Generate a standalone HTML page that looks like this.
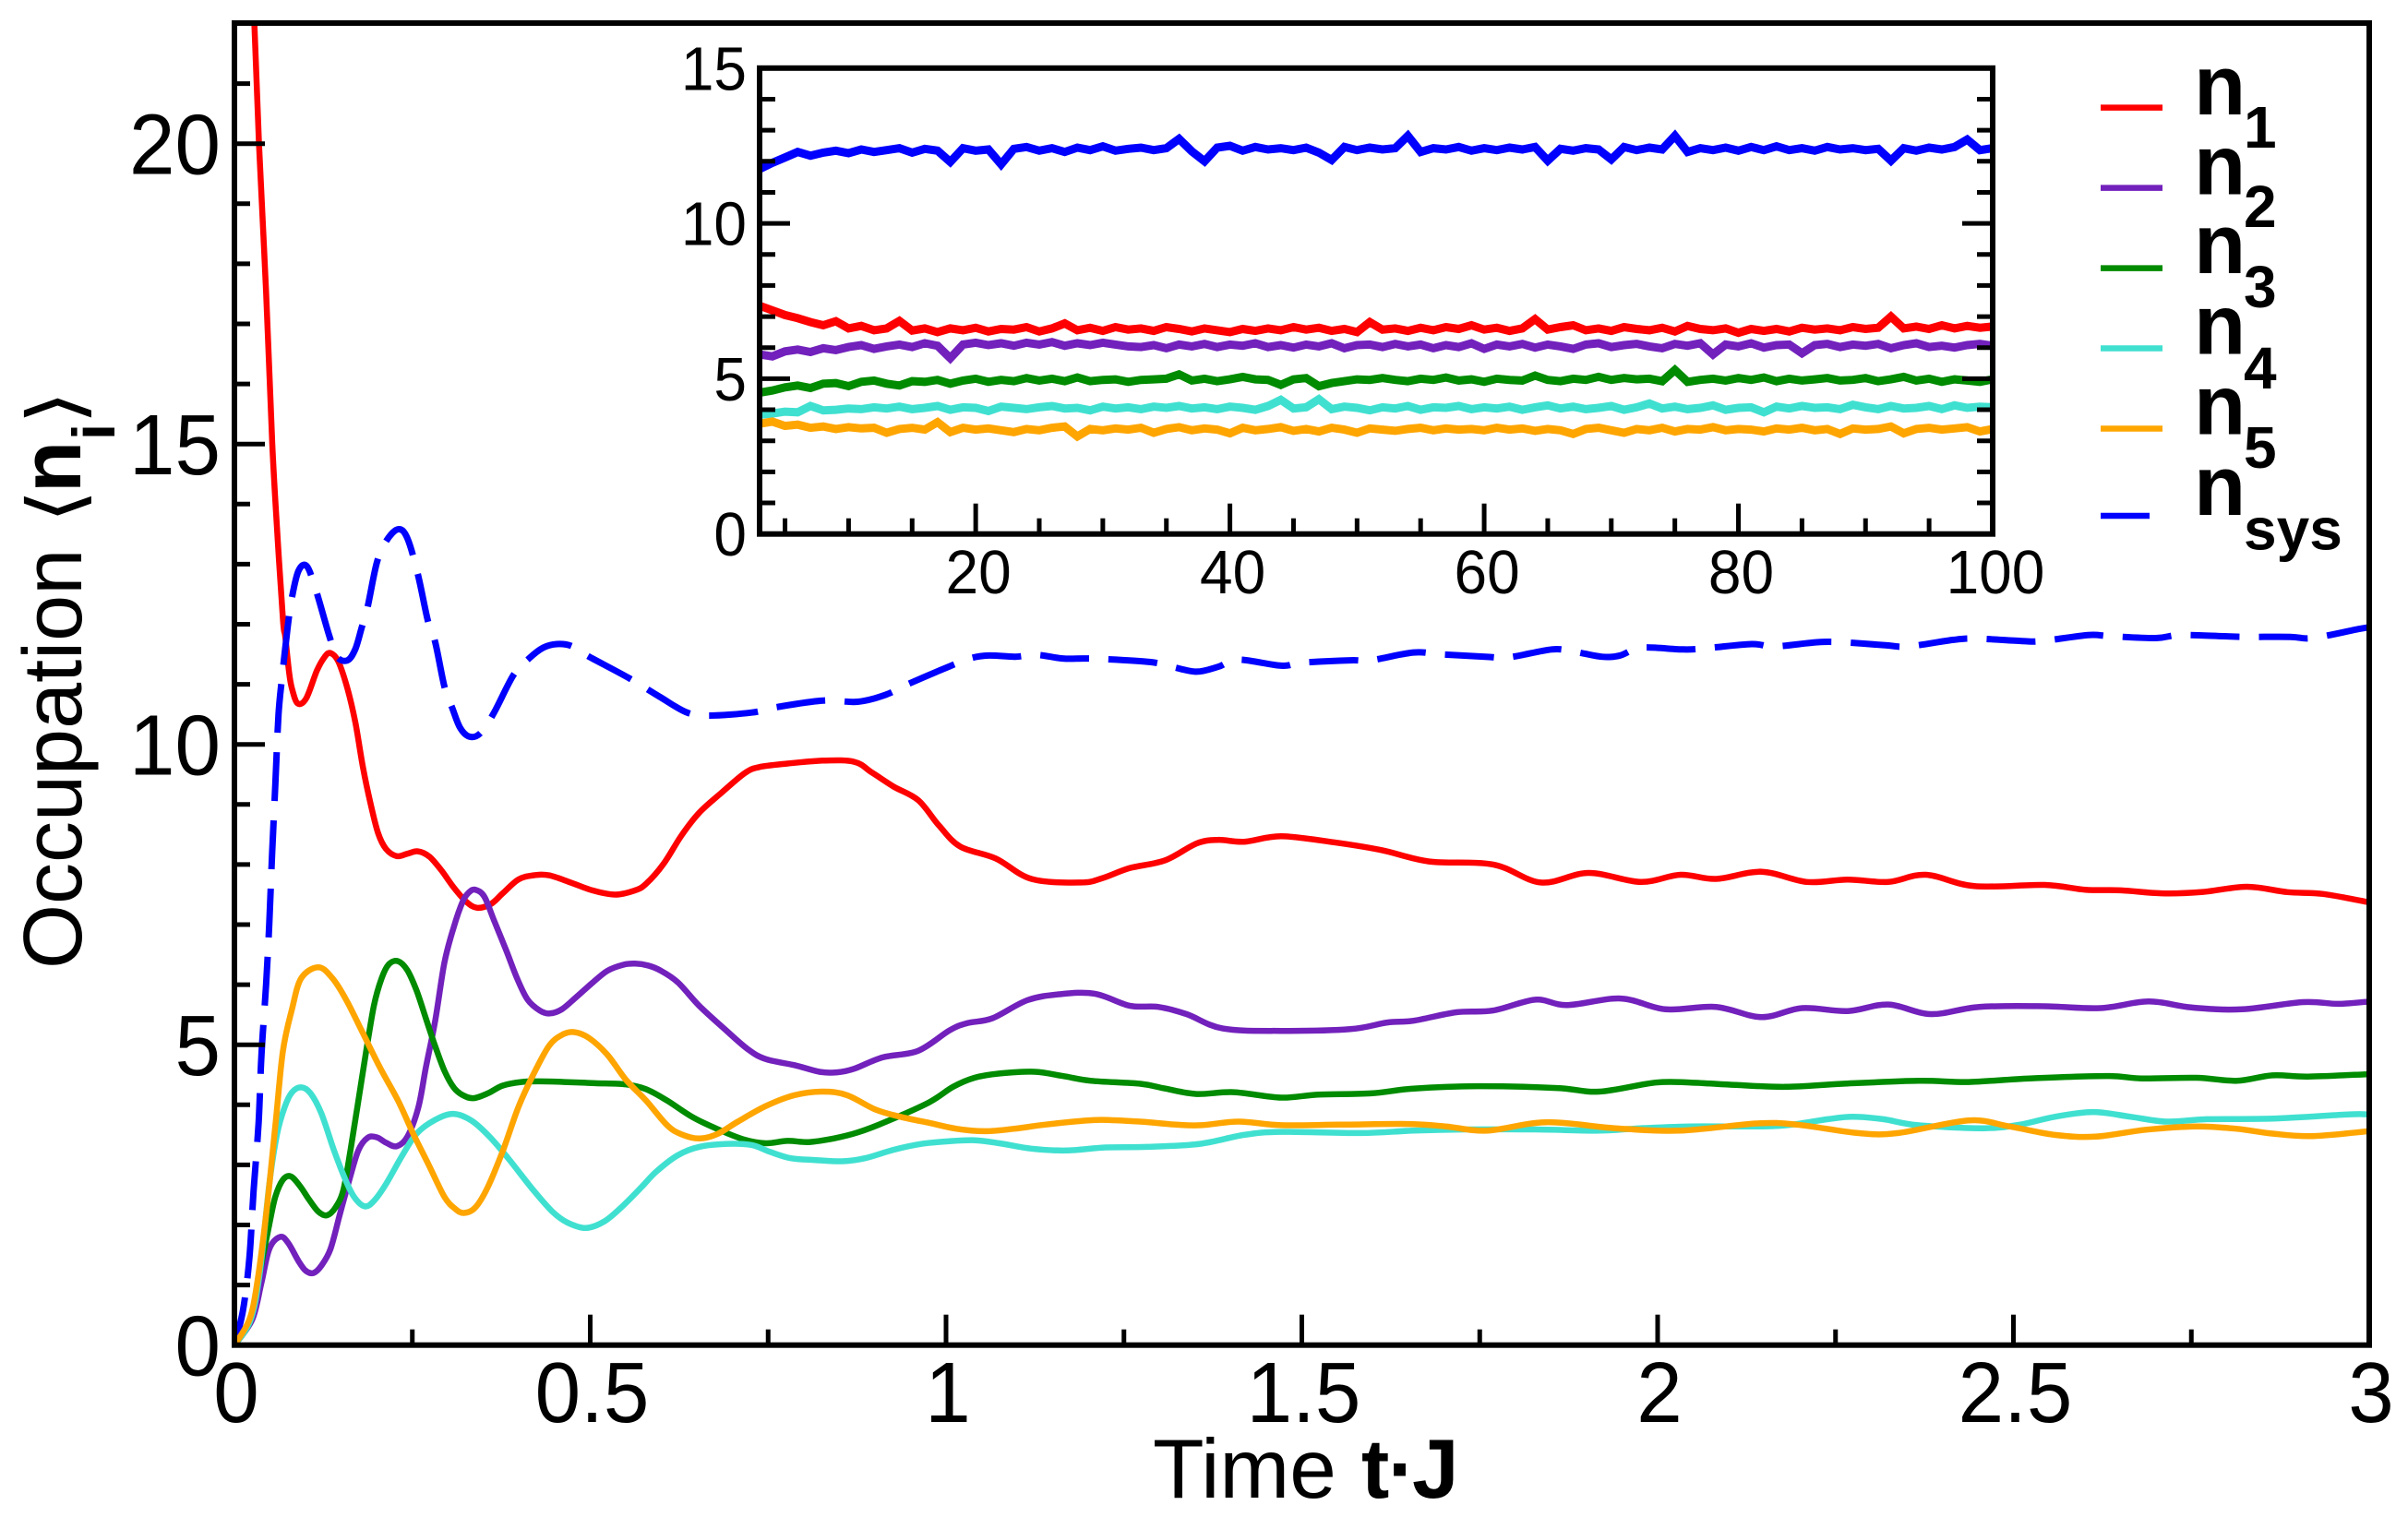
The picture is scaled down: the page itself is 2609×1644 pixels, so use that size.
<!DOCTYPE html>
<html lang="en">
<head>
<meta charset="utf-8">
<title>Occupation vs time</title>
<style>
html,body{margin:0;padding:0;background:#fff}
svg{display:block;font-family:"Liberation Sans",sans-serif}
</style>
</head>
<body>
<svg id="chart" xmlns="http://www.w3.org/2000/svg" width="2609" height="1644" viewBox="0 0 2609 1644">
  <rect x="0" y="0" width="2609" height="1644" fill="#fff"/>
  <defs><clipPath id="main-clip"><rect x="254" y="25" width="2313" height="1433"/></clipPath></defs>
  <g id="main-series" clip-path="url(#main-clip)"></g>
  <g id="main-axes"></g>
  <g id="inset-series"></g>
  <g id="inset-axes"></g>

  <text y="1623" font-size="91" fill="#000"><tspan x="1249">Time</tspan><tspan x="1475" font-weight="700">t</tspan><tspan x="1519" text-anchor="middle" font-weight="700">·</tspan><tspan x="1530" font-weight="700">J</tspan></text>

  <g fill="#000">
    <text transform="translate(88,1050) rotate(-90)" font-size="90">Occupation</text>
    <text transform="translate(88,567) rotate(-90) scale(1.15,1)" font-size="82" style='font-family:"DejaVu Sans",sans-serif'>⟨</text>
    <text transform="translate(87,534) rotate(-90)" font-size="92" font-weight="700">n</text>
    <text transform="translate(124,477) rotate(-90)" font-size="65" font-weight="700">i</text>
    <text transform="translate(88,460) rotate(-90) scale(1.15,1)" font-size="82" style='font-family:"DejaVu Sans",sans-serif'>⟩</text>
  </g>

  <g fill="#000" font-weight="700">
    <g>
      <line x1="2276" x2="2343" y1="116.6" y2="116.6" stroke="#ff0000" stroke-width="6.5"/>
      <text x="2377" y="124" font-size="92">n</text>
      <text x="2431" y="160" font-size="64">1</text>
    </g>
    <g>
      <line x1="2276" x2="2343" y1="203.6" y2="203.6" stroke="#7221bc" stroke-width="6.5"/>
      <text x="2377" y="210.5" font-size="92">n</text>
      <text x="2431" y="246" font-size="64">2</text>
    </g>
    <g>
      <line x1="2276" x2="2343" y1="290.6" y2="290.6" stroke="#008b00" stroke-width="6.5"/>
      <text x="2377" y="296" font-size="92">n</text>
      <text x="2431" y="333" font-size="64">3</text>
    </g>
    <g>
      <line x1="2276" x2="2343" y1="377.5" y2="377.5" stroke="#40e0d0" stroke-width="6.5"/>
      <text x="2377" y="383.7" font-size="92">n</text>
      <text x="2431" y="421" font-size="64">4</text>
    </g>
    <g>
      <line x1="2276" x2="2343" y1="464.5" y2="464.5" stroke="#ffa500" stroke-width="6.5"/>
      <text x="2377" y="470.6" font-size="92">n</text>
      <text x="2431" y="507" font-size="64">5</text>
    </g>
    <g>
      <line x1="2276" x2="2329" y1="559" y2="559" stroke="#0000ff" stroke-width="6.5"/>
      <text x="2377" y="558" font-size="92">n</text>
      <text x="2431" y="595.6" font-size="64">sys</text>
    </g>
  </g>
</svg>
<script>
// ---------- main plot data (time, occupation) ----------
const n1Times=[.024,.028,.0345,.0445,.0532,.061,.0683,.0715,.077,.081,.089,.101,.116,.127,.135,.146,.159,.17,.181,.192,.202,.213,.228,.243,.258,.274,.291,.308,.326,.341,.36,.377,.399,.42,.442,.4725,.503,.535,.563,.5785,.603,.628,.653,.683,.717,.737,.777,.827,.871,.896,.926,.961,.99,1.02,1.07,1.12,1.189,1.219,1.258,1.308,1.352,1.382,1.419,1.471,1.545,1.612,1.679,1.769,1.836,1.903,1.976,2.032,2.082,2.146,2.21,2.267,2.324,2.377,2.445,2.544,2.601,2.651,2.708,2.764,2.828,2.885,2.935,3];
const n1Values=[23.2,22,20,17.53,15,13.38,12.05,11.79,11.18,10.92,10.68,10.77,11.23,11.46,11.52,11.38,10.92,10.36,9.59,8.98,8.52,8.26,8.14,8.18,8.22,8.13,7.9,7.62,7.38,7.28,7.34,7.52,7.75,7.82,7.82,7.7,7.57,7.5,7.57,7.68,8.01,8.48,8.86,9.18,9.52,9.62,9.68,9.73,9.71,9.53,9.3,9.07,8.65,8.3,8.1,7.76,7.7,7.77,7.94,8.07,8.35,8.41,8.38,8.47,8.37,8.24,8.05,8,7.7,7.86,7.71,7.83,7.76,7.88,7.71,7.75,7.71,7.83,7.64,7.66,7.58,7.57,7.52,7.54,7.63,7.54,7.51,7.37];

const n2Times=[0,.025,.038,.049,.064,.075,.09,.1,.111,.122,.135,.148,.161,.174,.187,.2,.213,.228,.243,.2585,.269,.282,.295,.308,.321,.33,.3385,.351,.3645,.382,.397,.412,.429,.443,.46,.481,.503,.524,.546,.563,.581,.598,.623,.653,.688,.722,.747,.787,.822,.847,.871,.911,.961,1.005,1.03,1.065,1.114,1.159,1.209,1.258,1.298,1.338,1.389,1.471,1.568,1.62,1.657,1.717,1.769,1.828,1.873,1.948,2.011,2.082,2.146,2.203,2.267,2.324,2.384,2.452,2.544,2.622,2.69,2.75,2.821,2.907,2.956,3];
const n2Values=[0,.425,1.04,1.6,1.8,1.71,1.4,1.24,1.2,1.32,1.6,2.17,2.73,3.24,3.45,3.46,3.37,3.31,3.47,3.96,4.62,5.39,6.36,6.95,7.39,7.54,7.58,7.47,7.08,6.57,6.11,5.75,5.57,5.52,5.59,5.8,6.03,6.23,6.33,6.35,6.32,6.24,6.04,5.65,5.27,4.92,4.76,4.66,4.55,4.54,4.6,4.79,4.9,5.24,5.36,5.44,5.74,5.84,5.85,5.65,5.63,5.51,5.27,5.23,5.26,5.37,5.4,5.54,5.57,5.75,5.66,5.77,5.59,5.63,5.46,5.61,5.56,5.67,5.51,5.63,5.64,5.61,5.72,5.62,5.59,5.71,5.68,5.72];

const n3Times=[0,.023,.036,.049,.0575,.068,.079,.092,.105,.118,.13,.142,.153,.163,.174,.185,.196,.207,.217,.23,.243,.256,.269,.282,.295,.308,.321,.336,.356,.377,.403,.429,.464,.507,.55,.5785,.608,.643,.678,.717,.747,.777,.807,.842,.876,.916,.976,1.01,1.04,1.075,1.124,1.164,1.204,1.273,1.308,1.352,1.404,1.471,1.523,1.597,1.657,1.746,1.858,1.918,1.997,2.047,2.11,2.18,2.26,2.366,2.437,2.523,2.63,2.68,2.757,2.814,2.864,2.914,3];
const n3Values=[0,.425,1.24,2.01,2.47,2.75,2.81,2.65,2.42,2.22,2.16,2.29,2.58,3.24,4.06,4.88,5.65,6.11,6.34,6.39,6.24,5.9,5.44,4.98,4.57,4.29,4.16,4.11,4.19,4.32,4.38,4.39,4.38,4.36,4.34,4.26,4.07,3.8,3.6,3.42,3.36,3.4,3.38,3.44,3.54,3.72,4.04,4.3,4.45,4.52,4.55,4.48,4.4,4.35,4.27,4.18,4.21,4.12,4.17,4.19,4.27,4.31,4.28,4.22,4.37,4.37,4.33,4.3,4.35,4.4,4.38,4.44,4.48,4.44,4.45,4.4,4.49,4.47,4.51];

const n4Times=[0,.023,.036,.049,.0597,.0705,.081,.094,.107,.122,.14,.155,.168,.183,.196,.213,.235,.256,.282,.308,.334,.36,.386,.42,.447,.468,.494,.52,.546,.572,.593,.623,.653,.693,.727,.752,.782,.817,.854,.886,.926,.966,1,1.04,1.075,1.12,1.169,1.224,1.283,1.357,1.419,1.471,1.583,1.657,1.731,1.828,1.918,1.976,2.047,2.146,2.189,2.239,2.274,2.317,2.366,2.459,2.509,2.558,2.612,2.665,2.715,2.772,2.864,2.97,3];
const n4Values=[0,.425,1.24,2.68,3.5,3.96,4.21,4.29,4.19,3.86,3.24,2.78,2.47,2.31,2.4,2.68,3.14,3.52,3.75,3.85,3.73,3.45,3.09,2.58,2.22,2.04,1.95,2.06,2.32,2.63,2.89,3.16,3.3,3.35,3.33,3.22,3.11,3.08,3.06,3.11,3.25,3.35,3.39,3.41,3.36,3.27,3.24,3.29,3.3,3.35,3.5,3.55,3.53,3.57,3.59,3.59,3.57,3.61,3.64,3.64,3.67,3.76,3.8,3.76,3.66,3.61,3.67,3.8,3.88,3.8,3.72,3.76,3.77,3.84,3.84];

const n5Times=[0,.021,.032,.0445,.0575,.068,.081,.094,.118,.1375,.157,.1786,.2045,.2304,.252,.2737,.295,.31,.3225,.3385,.356,.3774,.399,.4207,.442,.4596,.477,.4985,.5244,.55,.5785,.608,.628,.653,.678,.7075,.747,.787,.827,.861,.901,.936,.976,1.015,1.055,1.095,1.139,1.189,1.219,1.273,1.323,1.359,1.411,1.471,1.553,1.65,1.702,1.761,1.843,1.94,2.032,2.139,2.196,2.281,2.338,2.437,2.494,2.558,2.615,2.686,2.757,2.814,2.864,2.92,3];
const n5Values=[0,.425,1.04,2.17,3.65,4.88,5.6,6.11,6.29,6.11,5.75,5.24,4.62,4.06,3.5,2.985,2.47,2.27,2.2,2.29,2.63,3.24,3.96,4.52,4.98,5.16,5.21,5.11,4.83,4.42,4.07,3.66,3.51,3.44,3.51,3.72,3.98,4.16,4.22,4.16,3.92,3.8,3.7,3.6,3.56,3.6,3.67,3.73,3.75,3.72,3.67,3.66,3.72,3.66,3.67,3.68,3.64,3.57,3.71,3.61,3.57,3.69,3.67,3.53,3.53,3.74,3.64,3.5,3.47,3.585,3.64,3.6,3.52,3.48,3.56];

const nsysTimes=[0,.012,.021,.027,.034,.038,.0445,.049,.053,.0575,.062,.068,.075,.081,.09,.1015,.114,.133,.144,.159,.17,.179,.187,.2,.213,.23,.243,.258,.272,.282,.295,.306,.317,.33,.345,.364,.392,.414,.434,.453,.473,.4985,.555,.598,.636,.668,.727,.762,.827,.876,.916,.946,1.005,1.033,1.06,1.097,1.127,1.164,1.194,1.224,1.288,1.318,1.352,1.382,1.411,1.471,1.5,1.568,1.597,1.657,1.694,1.758,1.791,1.851,1.88,1.921,1.947,1.977,2.036,2.068,2.132,2.164,2.224,2.26,2.32,2.352,2.416,2.448,2.512,2.54,2.605,2.637,2.7,2.733,2.796,2.825,2.889,2.92,2.985,3];
const nsysValues=[0,.58,1.45,2.58,3.7,4.83,6,7.03,8.21,9.33,10.51,11.23,11.97,12.46,12.89,12.97,12.59,11.82,11.46,11.4,11.59,11.95,12.28,13.02,13.38,13.58,13.43,12.82,12.05,11.71,10.97,10.61,10.28,10.13,10.18,10.51,11.15,11.43,11.61,11.67,11.64,11.46,11.1,10.79,10.53,10.48,10.53,10.62,10.73,10.71,10.83,11,11.3,11.43,11.48,11.46,11.49,11.43,11.43,11.42,11.37,11.29,11.21,11.29,11.41,11.31,11.36,11.4,11.4,11.53,11.5,11.46,11.45,11.58,11.55,11.46,11.48,11.61,11.58,11.6,11.67,11.63,11.7,11.7,11.65,11.63,11.74,11.76,11.72,11.72,11.82,11.8,11.77,11.82,11.8,11.79,11.79,11.77,11.92,11.95];

// ---------- inset data ----------
const insetTimes=[3,4,5,6,7,8,9,10,11,12,13,14,15,16,17,18,19,20,21,22,23,24,25,26,27,28,29,30,31,32,33,34,35,36,37,38,39,40,41,42,43,44,45,46,47,48,49,50,51,52,53,54,55,56,57,58,59,60,61,62,63,64,65,66,67,68,69,70,71,72,73,74,75,76,77,78,79,80,81,82,83,84,85,86,87,88,89,90,91,92,93,94,95,96,97,98,99,100];
const insetN1=[7.35,7.2,7.05,6.95,6.82,6.72,6.85,6.62,6.7,6.56,
6.62,6.86,6.55,6.62,6.5,6.62,6.56,6.64,6.52,6.6,
6.58,6.66,6.52,6.62,6.78,6.56,6.64,6.54,6.66,6.58,
6.62,6.54,6.66,6.6,6.52,6.62,6.56,6.5,6.6,6.54,
6.62,6.56,6.66,6.58,6.64,6.54,6.6,6.5,6.82,6.58,
6.62,6.54,6.64,6.56,6.66,6.6,6.72,6.58,6.64,6.54,
6.62,6.92,6.58,6.66,6.72,6.56,6.62,6.54,6.66,6.6,
6.56,6.64,6.52,6.7,6.6,6.56,6.62,6.48,6.6,6.54,
6.6,6.52,6.64,6.58,6.62,6.56,6.66,6.6,6.64,7,
6.62,6.68,6.6,6.72,6.62,6.7,6.64,6.68];
const insetN2=[5.78,5.72,5.88,5.94,5.86,5.98,5.92,6.02,6.08,5.96,
6.04,6.1,6.02,6.14,6.06,5.66,6.1,6.16,6.08,6.14,
6.06,6.16,6.1,6.18,6.06,6.14,6.08,6.16,6.1,6.04,
6.02,6.08,5.98,6.1,6.04,6.12,6.02,6.1,6.06,6.14,
6.02,6.08,6,6.1,6.04,6.14,5.98,6.08,6.1,6.02,
6.12,6.04,6.1,5.98,6.08,6.02,6.14,5.96,6.1,6.04,
6.12,6,6.1,6.04,5.96,6.1,6.14,6.02,6.08,6.12,
6.04,5.98,6.12,6.06,6.14,5.78,6.1,6.04,6.14,6,
6.08,6.1,5.82,6.08,6.12,6.02,6.1,6.06,6.12,5.98,
6.08,6.14,6.02,6.06,6,6.08,6.12,6.06];
const insetN3=[4.55,4.62,4.72,4.78,4.7,4.84,4.86,4.76,4.9,4.94,
4.84,4.78,4.92,4.9,4.96,4.84,4.94,5,4.9,4.96,
4.92,5.02,4.94,5,4.92,5.04,4.92,4.96,4.98,4.9,
4.96,4.98,5,5.14,4.94,5,4.92,4.98,5.06,4.98,
4.96,4.8,4.98,5.02,4.76,4.86,4.92,4.98,4.96,5.02,
4.96,4.92,5,4.96,5.04,4.94,4.98,4.9,5,4.96,
4.94,5.1,4.96,4.92,5,4.96,5.06,4.96,5.02,4.98,
5,4.92,5.28,4.9,4.96,5,4.94,5.02,4.96,5.04,
4.92,5,4.94,4.98,5.02,4.94,4.96,5.02,4.92,4.98,
5.06,4.94,5,4.9,4.98,4.94,4.9,4.98];
const insetN4=[3.84,3.88,3.94,3.92,4.12,3.98,4,4.04,4.02,4.08,
4.04,4.1,4.02,4.06,4.12,4,4.08,4.06,3.96,4.1,
4.06,4.02,4.08,4.12,4.04,4.06,3.98,4.1,4.04,4.08,
4.02,4.1,4.06,4.12,4.04,4.08,4.02,4.1,4.06,4,
4.12,4.32,4.04,4.08,4.34,4.02,4.1,4.06,3.98,4.08,
4.04,4.12,4,4.08,4.06,4.12,4.02,4.08,4.04,4.1,
4,4.08,4.14,4.04,4.1,4.02,4.06,4.12,4,4.08,
4.2,4.04,4.1,4.02,4.06,4.14,4,4.06,4.08,3.92,
4.1,4.04,4.12,4.06,4.08,4.02,4.16,4.08,4.02,4.12,
4.04,4.06,4.12,4.02,4.14,4.06,4.1,4.08];
const insetN5=[3.55,3.62,3.48,3.52,3.42,3.46,3.38,3.44,3.4,3.42,
3.26,3.38,3.42,3.36,3.6,3.28,3.42,3.36,3.4,3.34,
3.28,3.38,3.34,3.42,3.46,3.14,3.38,3.34,3.4,3.36,
3.42,3.26,3.38,3.44,3.34,3.4,3.36,3.24,3.42,3.34,
3.38,3.44,3.32,3.38,3.3,3.42,3.36,3.26,3.4,3.36,
3.32,3.38,3.42,3.34,3.4,3.36,3.38,3.34,3.42,3.36,
3.4,3.32,3.38,3.34,3.22,3.38,3.42,3.34,3.26,3.38,
3.34,3.42,3.3,3.38,3.36,3.44,3.34,3.38,3.36,3.3,
3.4,3.36,3.42,3.34,3.38,3.22,3.4,3.36,3.38,3.46,
3.24,3.38,3.42,3.36,3.4,3.44,3.3,3.38];
const insetNsys=[11.75,11.95,12.12,12.3,12.18,12.28,12.34,12.26,12.38,12.3,
12.36,12.42,12.28,12.4,12.34,11.98,12.42,12.34,12.38,11.9,
12.4,12.46,12.34,12.42,12.3,12.44,12.36,12.48,12.34,12.4,
12.44,12.36,12.42,12.72,12.32,12,12.44,12.5,12.34,12.46,
12.38,12.42,12.36,12.44,12.28,12.04,12.46,12.36,12.44,12.38,
12.42,12.82,12.3,12.42,12.38,12.46,12.34,12.42,12.36,12.44,
12.38,12.46,12.02,12.4,12.34,12.42,12.38,12.06,12.46,12.36,
12.44,12.38,12.82,12.3,12.42,12.36,12.44,12.34,12.46,12.36,
12.48,12.36,12.42,12.34,12.46,12.38,12.42,12.36,12.4,12.02,
12.42,12.34,12.44,12.38,12.46,12.7,12.36,12.42];

// ---------- tick labels ----------
const mainXTicks=[0,0.5,1,1.5,2,2.5,3];
const mainXMinor=[0.25,0.75,1.25,1.75,2.25,2.75];
const mainYTicks=[0,5,10,15,20];
const mainYMinor=[1,2,3,4,6,7,8,9,11,12,13,14,16,17,18,19,21];
const insetXTicks=[20,40,60,80,100];
const insetXMinor=[5,10,15,25,30,35,45,50,55,65,70,75,85,90,95];
const insetYTicks=[0,5,10,15];
const insetYMinor=[1,2,3,4,6,7,8,9,11,12,13,14];

// ---------- axis functions ----------
function mainX(t){return 254+771*t;}
function mainY(v){return 1457.7-65.1*v;}
function insetX(t){return 823+(t-3)*13.773;}
function insetY(v){return 578.7-33.66*v;}

const NS='http://www.w3.org/2000/svg';

function smoothPath(ts,vs){
  const p=ts.map((t,i)=>[mainX(t),mainY(vs[i])]);
  let d='M'+p[0][0].toFixed(1)+' '+p[0][1].toFixed(1);
  for(let i=0;i<p.length-1;i++){
    const a=p[Math.max(i-1,0)],b=p[i],c=p[i+1],e=p[Math.min(i+2,p.length-1)];
    const c1x=b[0]+(c[0]-a[0])/6,c1y=b[1]+(c[1]-a[1])/6;
    const c2x=c[0]-(e[0]-b[0])/6,c2y=c[1]-(e[1]-b[1])/6;
    d+='C'+c1x.toFixed(1)+' '+c1y.toFixed(1)+' '+c2x.toFixed(1)+' '+c2y.toFixed(1)+' '+c[0].toFixed(1)+' '+c[1].toFixed(1);
  }
  return d;
}

function addCurve(parent,name,d,color,width,dash,join){
  const el=document.createElementNS(NS,'path');
  
  
  el.setAttribute('d',d);
  el.setAttribute('fill','none');
  el.setAttribute('stroke',color);
  el.setAttribute('stroke-width',width);
  el.setAttribute('stroke-linejoin',join||'round');
  if(dash){el.setAttribute('stroke-dasharray',dash);}
  parent.appendChild(el);
}

function addLine(parent,name,x1,y1,x2,y2,width){
  const el=document.createElementNS(NS,'line');
  
  
  el.setAttribute('x1',x1);
  el.setAttribute('y1',y1);
  el.setAttribute('x2',x2);
  el.setAttribute('y2',y2);
  el.setAttribute('stroke','#000');
  el.setAttribute('stroke-width',width);
  parent.appendChild(el);
}

function addLabel(parent,name,txt,x,y,size,sy,anchor){
  const el=document.createElementNS(NS,'text');
  
  
  el.setAttribute('transform','translate('+x+','+y+') scale(1,'+sy+')');
  el.setAttribute('font-size',size);
  el.setAttribute('text-anchor',anchor);
  el.setAttribute('fill','#000');
  el.textContent=txt;
  parent.appendChild(el);
}

function addFrame(parent,name,x,y,w,h){
  const el=document.createElementNS(NS,'rect');
  
  
  el.setAttribute('x',x);
  el.setAttribute('y',y);
  el.setAttribute('width',w);
  el.setAttribute('height',h);
  el.setAttribute('fill','none');
  el.setAttribute('stroke','#000');
  el.setAttribute('stroke-width','6');
  parent.appendChild(el);
}

// ---------- main series ----------
const mg=document.getElementById('main-series');
addCurve(mg,'series-n1',smoothPath(n1Times,n1Values),'#ff0000',6.5);
addCurve(mg,'series-nsys',smoothPath(nsysTimes,nsysValues),'#0000ff',7,'53 21');
addCurve(mg,'series-n2',smoothPath(n2Times,n2Values),'#7221bc',6.5);
addCurve(mg,'series-n3',smoothPath(n3Times,n3Values),'#008b00',6.5);
addCurve(mg,'series-n4',smoothPath(n4Times,n4Values),'#40e0d0',6.5);
addCurve(mg,'series-n5',smoothPath(n5Times,n5Values),'#ffa500',6.5);

// ---------- main axes ----------
const ma=document.getElementById('main-axes');
mainXMinor.forEach(t=>addLine(ma,'x-minor-tick',mainX(t),mainY(0),mainX(t),mainY(0)-17,5));
mainXTicks.forEach(t=>{
  addLine(ma,'x-major-tick',mainX(t),mainY(0),mainX(t),mainY(0)-33,5);
  addLabel(ma,'x-tick-label',String(t),mainX(t)+2,1541,89,1.04,'middle');
});
mainYMinor.forEach(v=>addLine(ma,'y-minor-tick',254,mainY(v),271,mainY(v),5));
mainYTicks.forEach(v=>{
  addLine(ma,'y-major-tick',254,mainY(v),287,mainY(v),5);
  addLabel(ma,'y-tick-label',String(v),239,mainY(v)+33,89,1.04,'end');
});
addFrame(ma,'main-plot-frame',254,25,2313,1432.7);

// ---------- inset series ----------
const ig=document.getElementById('inset-series');
function insetPath(ts,vs){
  return 'M'+ts.map((t,i)=>insetX(t).toFixed(1)+' '+insetY(vs[i]).toFixed(1)).join('L');
}
addCurve(ig,'inset-series-n1',insetPath(insetTimes,insetN1),'#ff0000',9,null,'miter');
addCurve(ig,'inset-series-n2',insetPath(insetTimes,insetN2),'#7221bc',9,null,'miter');
addCurve(ig,'inset-series-n3',insetPath(insetTimes,insetN3),'#008b00',9,null,'miter');
addCurve(ig,'inset-series-n4',insetPath(insetTimes,insetN4),'#40e0d0',9,null,'miter');
addCurve(ig,'inset-series-n5',insetPath(insetTimes,insetN5),'#ffa500',9,null,'miter');
addCurve(ig,'inset-series-nsys',insetPath(insetTimes,insetNsys),'#0000ff',9,null,'miter');

// ---------- inset axes ----------
const ia=document.getElementById('inset-axes');
insetXMinor.forEach(t=>addLine(ia,'inset-x-minor-tick',insetX(t),insetY(0),insetX(t),insetY(0)-17,5));
insetXTicks.forEach(t=>{
  addLine(ia,'inset-x-major-tick',insetX(t),insetY(0),insetX(t),insetY(0)-33,5);
  addLabel(ia,'inset-x-tick-label',String(t),insetX(t)+3,643,64,1.05,'middle');
});
insetYMinor.forEach(v=>{
  addLine(ia,'inset-y-minor-tick',823,insetY(v),840,insetY(v),5);
  addLine(ia,'inset-y-minor-tick-right',2159,insetY(v),2142,insetY(v),5);
});
insetYTicks.forEach(v=>{
  addLine(ia,'inset-y-major-tick',823,insetY(v),856,insetY(v),5);
  addLine(ia,'inset-y-major-tick-right',2159,insetY(v),2126,insetY(v),5);
  addLabel(ia,'inset-y-tick-label',String(v),809,insetY(v)+23.5,64,1.05,'end');
});
addFrame(ia,'inset-plot-frame',823,73.8,1336,504.9);
</script>
</body>
</html>
